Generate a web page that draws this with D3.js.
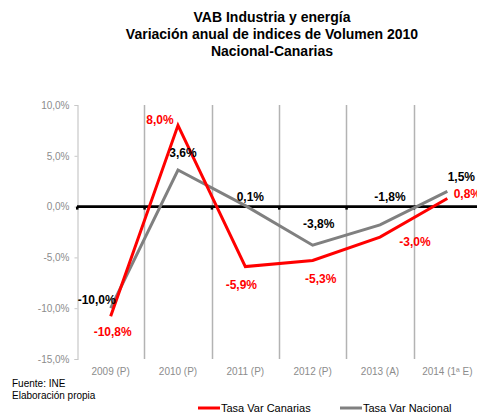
<!DOCTYPE html>
<html>
<head>
<meta charset="utf-8">
<script src="https://cdn.jsdelivr.net/npm/d3@7"></script>
<style>
  html, body { margin: 0; padding: 0; background: #fff; }
  svg { display: block; font-family: "Liberation Sans", Arial, sans-serif; }
</style>
</head>
<body>
<svg id="chart" width="477" height="414"></svg>
<script>
// ---- data ----
const categories = ["2009 (P)", "2010 (P)", "2011 (P)", "2012 (P)", "2013 (A)", "2014 (1ª E)"];
const canarias = [-10.8, 8.0, -5.9, -5.3, -3.0, 0.8];
const nacional = [-10.0, 3.6, 0.1, -3.8, -1.8, 1.5];
const yTicks = [10, 5, 0, -5, -10, -15];
const titleLines = ["VAB Industria y energía", "Variación anual de indices de Volumen 2010", "Nacional-Canarias"];
const footLines = ["Fuente: INE", "Elaboración propia"];
const seriesNames = ["Tasa Var Canarias", "Tasa Var Nacional"];

// label placement (offsets relative to the point, in px)
const offCanarias = [[2, 15], [-18, -6], [-4, 18], [8, 18], [35, 5], [20, -5]];
const offNacional = [[-14, -8], [5, -17], [5, -9], [6, -21], [10, -28], [14, -15]];

const fmt = v => d3.format(".1f")(v).replace(".", ",").replace("−", "-") + "%";

const svg = d3.select("#chart");

const x = d3.scaleBand().domain(categories).range([77, 481]);
const y = d3.scaleLinear().domain([-15, 10]).range([359, 105]);
const cx = c => x(c) + x.bandwidth() / 2;

// title
svg.append("g").selectAll("text").data(titleLines).join("text")
  .attr("x", 272).attr("y", (d, i) => 22 + i * 17)
  .attr("text-anchor", "middle")
  .attr("font-size", 14).attr("font-weight", "bold").attr("fill", "#000")
  .text(d => d);

// vertical separators
svg.append("g").selectAll("line").data(categories.slice(1)).join("line")
  .attr("x1", d => Math.round(x(d)) + 0.5).attr("x2", d => Math.round(x(d)) + 0.5)
  .attr("y1", y(10)).attr("y2", y(-15))
  .attr("stroke", "#b3b3b3").attr("stroke-width", 1.5);

// y axis
const yAxis = d3.axisLeft(y).tickValues(yTicks).tickSize(3).tickFormat(fmt);
const gy = svg.append("g").attr("transform", "translate(77.5,0)").call(yAxis);
gy.select(".domain").attr("stroke", "#c8c8c8").attr("stroke-width", 1.2);
gy.selectAll(".tick line").attr("stroke", "#c8c8c8");
gy.selectAll(".tick text").attr("x", -8).attr("fill", "#8c8c8c")
  .attr("font-size", 10).attr("font-family", "Liberation Sans, Arial, sans-serif");

// x axis labels
const xAxis = d3.axisBottom(x).tickSize(0).tickPadding(0);
const gx = svg.append("g").attr("transform", "translate(0,368)").call(xAxis);
gx.select(".domain").remove();
gx.selectAll(".tick text").attr("fill", "#8c8c8c").attr("font-size", 10)
  .attr("font-family", "Liberation Sans, Arial, sans-serif");

// zero line
svg.append("line")
  .attr("x1", 77).attr("x2", 481).attr("y1", y(0)).attr("y2", y(0))
  .attr("stroke", "#000").attr("stroke-width", 2.8);
svg.append("g").selectAll("rect").data(categories).join("rect")
  .attr("x", d => x(d) - 1).attr("y", y(0)).attr("width", 2.5).attr("height", 3)
  .attr("fill", "#000");

// lines
const line = d3.line().x((d, i) => cx(categories[i])).y(d => y(d));
svg.append("path").datum(nacional).attr("d", line)
  .attr("fill", "none").attr("stroke", "#808080").attr("stroke-width", 3)
  .attr("stroke-linejoin", "miter");
svg.append("path").datum(canarias).attr("d", line)
  .attr("fill", "none").attr("stroke", "#ff0000").attr("stroke-width", 3)
  .attr("stroke-linejoin", "miter");

// data labels
function labels(data, offs, color) {
  svg.append("g").selectAll("text").data(data).join("text")
    .attr("x", (d, i) => cx(categories[i]) + offs[i][0])
    .attr("y", (d, i) => y(d) + offs[i][1])
    .attr("dy", "0.35em")
    .attr("text-anchor", "middle")
    .attr("font-size", 12).attr("font-weight", "bold").attr("fill", color)
    .text(d => fmt(d));
}
labels(nacional, offNacional, "#000");
labels(canarias, offCanarias, "#ff0000");

// footnote
svg.append("g").selectAll("text").data(footLines).join("text")
  .attr("x", 12).attr("y", (d, i) => 387 + i * 12)
  .attr("font-size", 10).attr("fill", "#000")
  .text(d => d);

// legend
const legendColors = ["#ff0000", "#808080"];
const legendX = [198, 340];
const lg = svg.append("g").selectAll("g").data(seriesNames).join("g")
  .attr("transform", (d, i) => `translate(${legendX[i]},408)`);
lg.append("line").attr("x1", 0).attr("x2", 22).attr("y1", 0).attr("y2", 0)
  .attr("stroke", (d, i) => legendColors[i]).attr("stroke-width", 3);
lg.append("text").attr("x", 23).attr("dy", "0.35em")
  .attr("font-size", 11).attr("fill", "#000").text(d => d);
</script>
</body>
</html>
